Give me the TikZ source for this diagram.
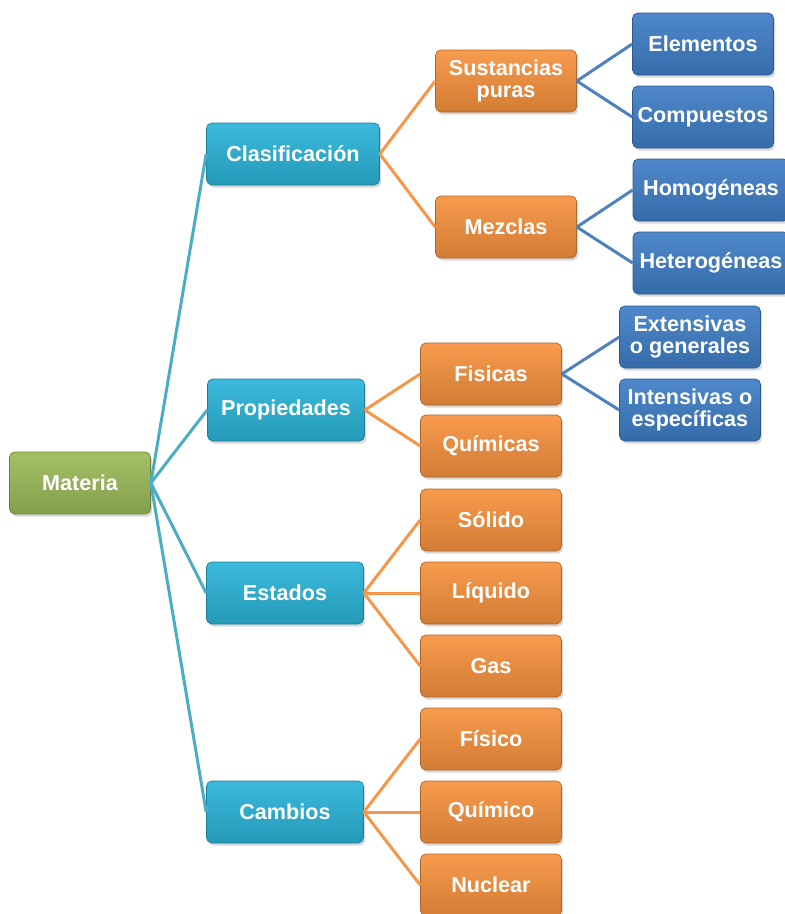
\documentclass[tikz,border=0pt]{standalone}
\usepackage{fontspec}
\setmainfont{Liberation Sans}
\usetikzlibrary{shadows}

\definecolor{verde}{HTML}{9BBB59}
\definecolor{turquesa}{HTML}{2BB4D8}
\definecolor{naranja}{HTML}{F7923E}
\definecolor{azul}{HTML}{3F7EC6}
\definecolor{lturq}{HTML}{4BACC6}
\definecolor{lazul}{HTML}{4F81BD}
\definecolor{lnaranja}{HTML}{F79646}

\tikzset{
	caja/.style={rounded corners=3pt, draw=#1!70!black, line width=0.4pt,
		top color=#1!92!white, bottom color=#1!85!black, text=white,
		font=\bfseries\fontsize{12.3}{12.6}\selectfont, align=center,
		minimum height=1.24cm, minimum width=2.82cm, inner sep=0pt,
		drop shadow={opacity=0.3, shadow xshift=1pt, shadow yshift=-1.5pt}},
	rama/.style={line width=1.7pt, color=#1}
}

\begin{document}
\begin{tikzpicture}[x=0.02cm, y=-0.02cm]
		
		\useasboundingbox (0,0) rectangle (785,914);
		
		% ramas
		\node[caja=verde] (mat) at (80,483) {Materia};
		
		\node[caja=turquesa, minimum width=3.46cm] (cla) at (293,154) {Clasificación};
		\node[caja=turquesa, minimum width=3.14cm] (pro) at (286,410) {Propiedades};
		\node[caja=turquesa, minimum width=3.14cm] (est) at (285,593) {Estados};
		\node[caja=turquesa, minimum width=3.14cm] (cam) at (285,812) {Cambios};
		
		\node[caja=naranja] (sus) at (506,81) {Sustancias\\puras};
		\node[caja=naranja] (mez) at (506,227) {Mezclas};
		\node[caja=naranja] (fis) at (491,374) {Fisicas};
		\node[caja=naranja] (qui) at (491,446) {Químicas};
		\node[caja=naranja] (sol) at (491,520) {Sólido};
		\node[caja=naranja] (liq) at (491,593) {Líquido};
		\node[caja=naranja] (gas) at (491,666) {Gas};
		\node[caja=naranja] (cfi) at (491,739) {Físico};
		\node[caja=naranja] (cqu) at (491,812) {Químico};
		\node[caja=naranja] (cnu) at (491,885) {Nuclear};
		
		\node[caja=azul] (ele) at (703,44) {Elementos};
		\node[caja=azul] (com) at (703,117) {Compuestos};
		\node[caja=azul, minimum width=3.12cm] (hom) at (711,190) {Homogéneas};
		\node[caja=azul, minimum width=3.12cm] (het) at (711,263) {Heterogéneas};
		\node[caja=azul] (ext) at (690,337) {Extensivas\\o generales};
		\node[caja=azul] (int) at (690,410) {Intensivas o\\específicas};
		
		% conexiones
		\foreach \b in {cla,pro,est,cam}
			\draw[rama=lturq] (mat.east) -- (\b.west);
		
		\foreach \a/\b in {cla/sus, cla/mez, pro/fis, pro/qui, est/sol, est/liq, est/gas, cam/cfi, cam/cqu, cam/cnu}
			\draw[rama=lnaranja] (\a.east) -- (\b.west);
		
		\foreach \a/\b in {sus/ele, sus/com, mez/hom, mez/het, fis/ext, fis/int}
			\draw[rama=lazul] (\a.east) -- (\b.west);
		
	\end{tikzpicture}
\end{document}
